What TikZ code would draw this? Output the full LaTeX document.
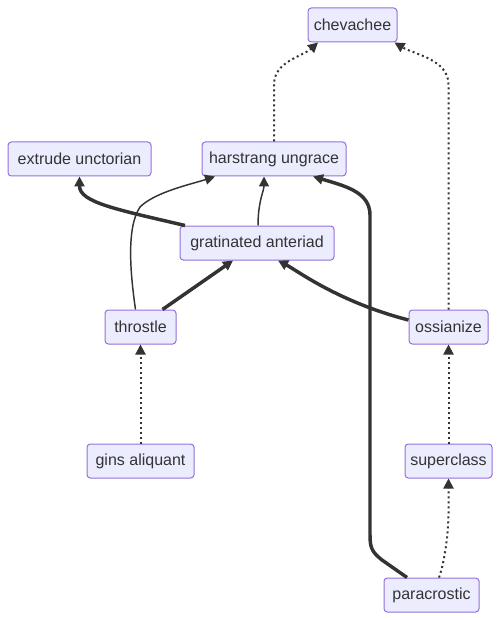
\documentclass[tikz,border=0pt]{standalone}
\usepackage{fontspec}
\setmainfont{Liberation Sans}
\usetikzlibrary{arrows.meta,calc}
\definecolor{nodefill}{HTML}{ECECFF}
\definecolor{nodeedge}{HTML}{9370DB}
\definecolor{ink}{HTML}{333333}
\begin{document}
\begin{tikzpicture}[x=0.75pt,y=-0.75pt,
  box/.style={draw=nodeedge,fill=nodefill,line width=0.75pt,rounded corners=2.5pt,
    minimum height=25.5pt,inner sep=0pt,text=ink,font=\fontsize{12}{14}\selectfont},
  tip/.style={-{Triangle[length=7.5pt,width=7.5pt]}},
  link/.style={draw=ink,line width=1.1pt,tip},
  thicklink/.style={draw=ink,line width=2.6pt,tip},
  dotlink/.style={draw=ink,line width=1.5pt,dash pattern=on 1.5pt off 2.25pt,tip}]
\useasboundingbox (0,0) rectangle (501,620);
\node[box,minimum width=66.75pt] (chev) at (352.5,25) {chevachee};
\node[box,minimum width=107.25pt] (extr) at (79.5,159) {extrude unctorian};
\node[box,minimum width=108pt] (hars) at (274,159) {harstrang ungrace};
\node[box,minimum width=115.5pt] (grat) at (257,243) {gratinated anteriad};
\node[box,minimum width=53.25pt] (thro) at (140.5,327) {throstle};
\node[box,minimum width=59.25pt] (ossi) at (448.5,327) {ossianize};
\node[box,minimum width=80.25pt] (gins) at (140.5,461) {gins aliquant};
\node[box,minimum width=65.25pt] (supe) at (448.5,461) {superclass};
\node[box,minimum width=71.25pt] (para) at (431.5,595) {paracrostic};
% dotted
\draw[dotlink] (hars.north) -- ($(hars.north)+(0,-57)$) .. controls ($(hars.north)+(0,-80)$) and ($(chev.south)+(-50,14)$) .. ($(chev.south)+(-34.5,0)$);
\draw[dotlink] (ossi.north) -- ($(ossi.north)+(0,-225)$) .. controls ($(ossi.north)+(0,-250)$) and ($(chev.south)+(62,12)$) .. ($(chev.south)+(42,0)$);
\draw[dotlink] (gins.north) -- (thro.south);
\draw[dotlink] (supe.north) -- (ossi.south);
\draw[dotlink] ($(para.north)+(7.5,0)$) .. controls ($(para.north)+(14,-18)$) and ($(supe.south)+(0,50)$) .. ($(supe.south)+(0,35)$) -- (supe.south);
% thick
\draw[thicklink] ($(grat.north)+(-72,0)$) .. controls ($(grat.north)+(-140,-16)$) and ($(extr.south)+(0,26)$) .. (extr.south);
\draw[thicklink] ($(thro.north)+(22,0)$) -- ($(grat.south)+(-24,0)$);
\draw[thicklink] ($(ossi.west)+(0,-7)$) .. controls ($(ossi.west)+(-70,-25)$) and ($(grat.south)+(40,10)$) .. ($(grat.south)+(21,0)$);
\draw[thicklink] ($(para.north)+(-24.5,0)$) -- (382,560) .. controls (372,552) and (370,548) .. (370,535) -- (370,215) .. controls (370,192) and (345,186) .. ($(hars.south)+(39,0)$);
% normal
\draw[link] ($(grat.north)+(1,0)$) .. controls ($(grat.north)+(1,-24)$) and ($(hars.south)+(-10,14)$) .. ($(hars.south)+(-10,0)$);
\draw[link] ($(thro.north)+(-5,0)$) .. controls ($(thro.north)+(-10,-35)$) and (126,228) .. (140,207) .. controls (155,192) and (192,184) .. ($(hars.south)+(-59,0)$);
\end{tikzpicture}
\end{document}
